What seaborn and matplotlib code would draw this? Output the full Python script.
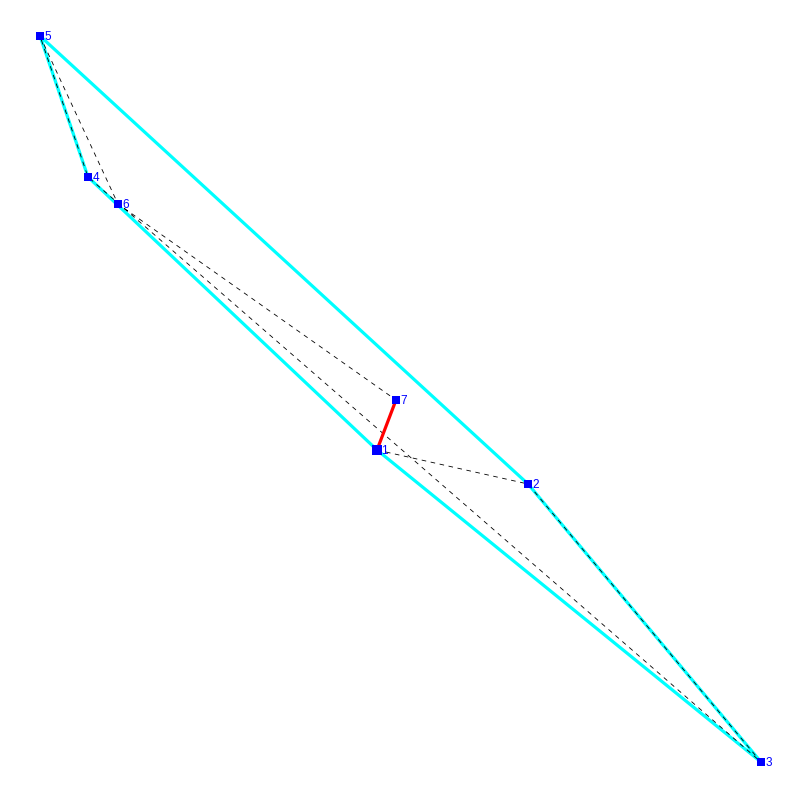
import matplotlib
matplotlib.use("Agg")
import matplotlib.pyplot as plt
import seaborn as sns
import pandas as pd

# node positions (y grows downwards)
node_ids = ["1", "2", "3", "4", "5", "6", "7"]
node_x = [377, 528, 761, 88, 40, 118, 396]
node_y = [450, 484, 762, 177, 36, 204, 400]
node_sizes = [50, 34, 34, 34, 34, 34, 34]

tour = ["1", "2", "3", "4", "5", "6", "7"]
hull = ["5", "2", "3", "1", "4", "5"]
link = ["1", "7"]

nodes = pd.DataFrame({"x": node_x, "y": node_y, "size": node_sizes}, index=node_ids)


def path_frame(ids):
    df = nodes.loc[ids, ["x", "y"]].reset_index(drop=True)
    df["order"] = range(len(df))
    return df


sns.set_style("white")
plt.rcParams["font.family"] = ["Liberation Sans", "DejaVu Sans"]

fig, ax = plt.subplots(figsize=(8, 8), dpi=100)
ax.set_position([0, 0, 1, 1])

sns.lineplot(data=path_frame(hull), x="x", y="y", sort=False, estimator=None,
             color="#00ffff", linewidth=2.3, ax=ax, zorder=1)
sns.lineplot(data=path_frame(tour), x="x", y="y", sort=False, estimator=None,
             color="black", linewidth=0.6, ax=ax, zorder=2,
             linestyle=(0, (5.5, 5.5)))
sns.lineplot(data=path_frame(link), x="x", y="y", sort=False, estimator=None,
             color="#ff0000", linewidth=2.3, ax=ax, zorder=3)
sns.scatterplot(data=nodes, x="x", y="y", s=nodes["size"], marker="s", color="#0000ff",
                linewidth=0, ax=ax, zorder=4)

for name, row in nodes.iterrows():
    ax.annotate(name, (row["x"], row["y"]), xytext=(3.2, -0.6), textcoords="offset points",
                color="#0000ff", fontsize=8.5, va="center", ha="left", zorder=5)

ax.set_xlim(0, 800)
ax.set_ylim(800, 0)
ax.axis("off")
fig.savefig("out.png", dpi=100, facecolor="white")
